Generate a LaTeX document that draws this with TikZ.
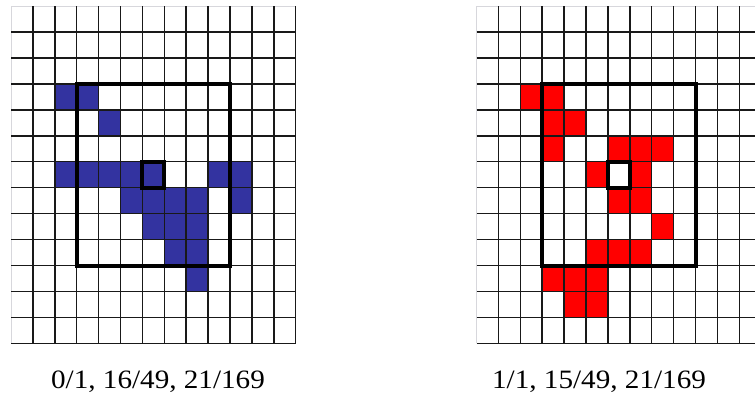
\documentclass[tikz,border=0pt]{standalone}
\usepackage{fontspec}
\setmainfont{Liberation Serif}
\definecolor{cellblue}{RGB}{51,51,160}
\definecolor{cellred}{RGB}{255,0,0}
\definecolor{edgegray}{RGB}{215,215,220}
\tikzset{gridline/.style={line width=1.5pt,black!90},
  gridedge/.style={line width=0.8pt,edgegray},
  frame/.style={line width=4pt,black},
  caption/.style={font=\fontsize{26.5}{30}\selectfont,anchor=base,xscale=1.1,transform shape}}
\newcommand\cw{21.9}
\newcommand\ch{25.95}
% 13x13 grid with the 7x7 window and the centre cell
\newcommand\cellgrid{%
  \draw[gridedge] (0,0) -- (13*\cw,0);
  \draw[gridedge] (0,0) -- (0,13*\ch);
  \foreach \i in {1,...,13} {
    \draw[gridline] (\i*\cw,0) -- (\i*\cw,13*\ch);
    \draw[gridline] (0,\i*\ch) -- (13*\cw,\i*\ch);
  }
  \draw[frame] (3*\cw,3*\ch) rectangle (10*\cw,10*\ch);
  \draw[frame] (6*\cw,6*\ch) rectangle (7*\cw,7*\ch);}

\begin{document}
\begin{tikzpicture}[x=1pt,y=-1pt]
\useasboundingbox (0,0) rectangle (755,399);
\clip (0,0) rectangle (755,399);

% left grid
\begin{scope}[shift={(11,6)}]
\foreach \c/\r in {2/3,3/3,4/4,2/6,3/6,4/6,5/6,6/6,9/6,10/6,
    5/7,6/7,7/7,8/7,10/7,6/8,7/8,8/8,7/9,8/9,8/10}
  \fill[cellblue] (\c*\cw,\r*\ch) rectangle ++(\cw,\ch);
\cellgrid
\end{scope}

% right grid
\begin{scope}[shift={(476.5,6)}]
\foreach \c/\r in {2/3,3/3,3/4,4/4,3/5,6/5,7/5,8/5,5/6,7/6,
    6/7,7/7,8/8,5/9,6/9,7/9,3/10,4/10,5/10,4/11,5/11}
  \fill[cellred] (\c*\cw,\r*\ch) rectangle ++(\cw,\ch);
\cellgrid
\end{scope}

\node[caption] (capleft) at (158,388) {0/1, 16/49, 21/169};
\node[caption] (capright) at (599,388) {1/1, 15/49, 21/169};
\end{tikzpicture}
\end{document}
